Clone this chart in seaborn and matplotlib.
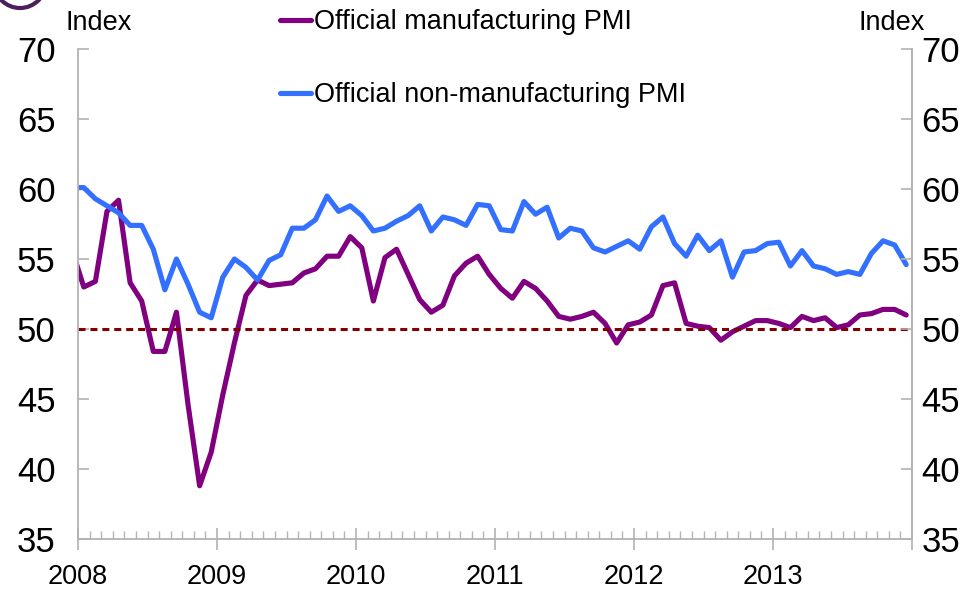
import numpy as np
import pandas as pd
import seaborn as sns
import matplotlib.pyplot as plt
from matplotlib.patches import Ellipse

# monthly readings, Dec 2007 then Jan 2008 .. Dec 2013
manufacturing = [55.6,
                 53.0, 53.4, 58.4, 59.2, 53.3, 52.0, 48.4, 48.4, 51.2, 44.6, 38.8, 41.2,
                 45.3, 49.0, 52.4, 53.5, 53.1, 53.2, 53.3, 54.0, 54.3, 55.2, 55.2, 56.6,
                 55.8, 52.0, 55.1, 55.7, 53.9, 52.1, 51.2, 51.7, 53.8, 54.7, 55.2, 53.9,
                 52.9, 52.2, 53.4, 52.9, 52.0, 50.9, 50.7, 50.9, 51.2, 50.4, 49.0, 50.3,
                 50.5, 51.0, 53.1, 53.3, 50.4, 50.2, 50.1, 49.2, 49.8, 50.2, 50.6, 50.6,
                 50.4, 50.1, 50.9, 50.6, 50.8, 50.1, 50.3, 51.0, 51.1, 51.4, 51.4, 51.0]
non_manufacturing = [60.1,
                     60.1, 59.3, 58.8, 58.3, 57.4, 57.4, 55.7, 52.8, 55.0, 53.2, 51.2, 50.8,
                     53.7, 55.0, 54.4, 53.5, 54.9, 55.3, 57.2, 57.2, 57.8, 59.5, 58.4, 58.8,
                     58.1, 57.0, 57.2, 57.7, 58.1, 58.8, 57.0, 58.0, 57.8, 57.4, 58.9, 58.8,
                     57.1, 57.0, 59.1, 58.2, 58.7, 56.5, 57.2, 57.0, 55.8, 55.5, 55.9, 56.3,
                     55.7, 57.3, 58.0, 56.1, 55.2, 56.7, 55.6, 56.3, 53.7, 55.5, 55.6, 56.1,
                     56.2, 54.5, 55.6, 54.5, 54.3, 53.9, 54.1, 53.9, 55.4, 56.3, 56.0, 54.6]
years = [2008, 2009, 2010, 2011, 2012, 2013]
yticks = [35, 40, 45, 50, 55, 60, 65, 70]

# points sit mid-month
date = 2008 + (np.arange(-1, 72) + 0.5) / 12
df = pd.DataFrame({'date': date,
                   'Official manufacturing PMI': manufacturing,
                   'Official non-manufacturing PMI': non_manufacturing})

sns.set_style("white")
plt.rcParams['font.family'] = ['Liberation Sans', 'DejaVu Sans']
plt.rcParams['text.color'] = 'black'
plt.rcParams['xtick.labelcolor'] = 'black'
plt.rcParams['ytick.labelcolor'] = 'black'

fig = plt.figure(figsize=(9.78, 5.94), dpi=100)
ax = fig.add_axes([78/978, 55/594, 834/978, 490/594])

purple = '#800080'
blue = '#3370ff'
sns.lineplot(data=df, x='date', y='Official manufacturing PMI', color=purple, lw=3.7, ax=ax,
             label='Official manufacturing PMI')
sns.lineplot(data=df, x='date', y='Official non-manufacturing PMI', color=blue, lw=3.7, ax=ax,
             label='Official non-manufacturing PMI')
ax.axhline(50, color='#7f0000', lw=2.2, ls=(0, (2.3, 1.6)))

ax.set_xlim(2008, 2014)
ax.set_ylim(35, 70)
ax.set_xlabel('')
ax.set_ylabel('')

gray = '#b3b3b3'
ax.spines['top'].set_visible(False)
for s in ['left', 'right', 'bottom']:
    ax.spines[s].set_color(gray)
    ax.spines[s].set_linewidth(1.3)

ax.set_xticks(years + [2014])
ax.set_xticklabels([str(y) for y in years] + [''])
ax.set_xticks(2008 + np.arange(73) / 12, minor=True)
ax.tick_params(axis='x', which='major', direction='inout', length=16, width=1.2, color=gray,
               labelsize=19.5, pad=10, bottom=True)
ax.tick_params(axis='x', which='minor', direction='in', length=6, width=1, color=gray, bottom=True)

ax.set_yticks(yticks)
ax.tick_params(axis='y', which='major', direction='in', length=8, width=1.2, color=gray,
               labelsize=25, pad=16, left=True)

ax2 = ax.twinx()
ax2.set_ylim(35, 70)
ax2.set_yticks(yticks)
ax2.tick_params(axis='y', direction='in', length=8, width=1.2, color=gray, labelsize=25, pad=7, right=True)
for s in ['top', 'left', 'bottom']:
    ax2.spines[s].set_visible(False)
ax2.spines['right'].set_color(gray)
ax2.spines['right'].set_linewidth(1.3)

fig.text(66/978, 1 - 23/594, 'Index', fontsize=19.5, ha='left', va='center')
fig.text(925/978, 1 - 23/594, 'Index', fontsize=19.5, ha='right', va='center')

leg = ax.legend(loc='upper left', bbox_to_anchor=(280/978, 1 - 9/594), bbox_transform=fig.transFigure,
                frameon=False, fontsize=19.5, handlelength=1.15, handletextpad=0.1, labelspacing=1.75,
                borderaxespad=0, borderpad=0)

# logo edge peeking in at top left
fig.patches.append(Ellipse((20/978, 1 + 18/594), 52/978, 52/594, transform=fig.transFigure,
                           fc='white', ec='#4a1f5c', lw=3, clip_on=False))

fig.savefig('out.png', dpi=100)
